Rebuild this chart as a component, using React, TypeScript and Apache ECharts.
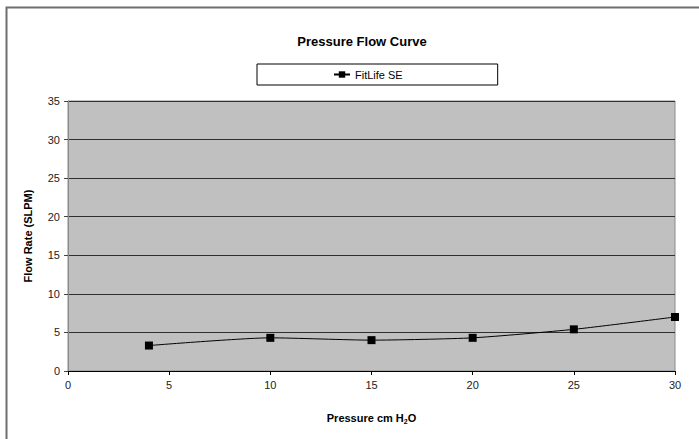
import React, { useEffect, useRef } from "react";
import * as echarts from "echarts";

const pressure = [4, 10, 15, 20, 25, 30];
const flowRate = [3.3, 4.3, 4.0, 4.3, 5.4, 7.0];
const seriesName = "FitLife SE";
const titleText = "Pressure Flow Curve";
const yAxisTitle = "Flow Rate (SLPM)";

export default function App() {
  const ref = useRef<HTMLDivElement>(null);
  useEffect(() => {
    if (!ref.current) return;
    const chart = echarts.init(ref.current, null, { renderer: "svg" });
    const font = "Liberation Sans, Arial, sans-serif";
    chart.setOption({
      animation: false,
      backgroundColor: "#ffffff",
      title: {
        text: titleText,
        left: 357,
        textAlign: "center",
        top: 30,
        textStyle: { fontFamily: font, fontSize: 13, fontWeight: "bold", color: "#000" },
      },
      legend: {
        data: [seriesName],
        top: 64,
        left: 257,
        borderColor: "#000",
        borderWidth: 1,
        padding: [5, 95, 5, 76],
        itemWidth: 16,
        itemHeight: 8,
        itemGap: 4,
        textStyle: { fontFamily: font, fontSize: 11, color: "#000" },
      },
      graphic: [
        {
          type: "rect",
          shape: { x: 6.5, y: 7.5, width: 720, height: 460 },
          style: { fill: "none", stroke: "#6e6e6e", lineWidth: 2 },
          silent: true,
        },
      ],
      grid: {
        left: 68,
        right: 24,
        top: 101,
        bottom: 68,
        show: true,
        backgroundColor: "#c0c0c0",
        borderColor: "#8a8a8a",
        borderWidth: 1,
      },
      xAxis: {
        type: "value",
        min: 0,
        max: 30,
        interval: 5,
        name: "{a|Pressure cm H}{s|2}{a|O}",
        nameLocation: "middle",
        nameGap: 40,
        nameTextStyle: {
          rich: {
            a: { fontFamily: font, fontSize: 11, fontWeight: "bold", color: "#000" },
            s: { fontFamily: font, fontSize: 7, fontWeight: "bold", color: "#000", padding: [7, 0, 0, 0] },
          },
        },
        axisLine: { show: true, lineStyle: { color: "#000", width: 1 } },
        axisTick: { show: true, inside: false, length: 4, lineStyle: { color: "#000" } },
        axisLabel: { fontFamily: font, fontSize: 11, color: "#222", margin: 8 },
        splitLine: { show: false },
      },
      yAxis: {
        type: "value",
        min: 0,
        max: 35,
        interval: 5,
        name: yAxisTitle,
        nameLocation: "middle",
        nameGap: 35,
        nameTextStyle: { fontFamily: font, fontSize: 11, fontWeight: "bold", color: "#000" },
        axisLine: { show: true, lineStyle: { color: "#8a8a8a", width: 1 } },
        axisTick: { show: true, inside: false, length: 4, lineStyle: { color: "#444" } },
        axisLabel: { fontFamily: font, fontSize: 11, color: "#222", margin: 8 },
        splitLine: { show: true, lineStyle: { color: "#303030", width: 1 } },
      },
      series: [
        {
          name: seriesName,
          type: "line",
          data: pressure.map((p, i) => [p, flowRate[i]]),
          smooth: 0.2,
          symbol: "rect",
          symbolSize: 8,
          itemStyle: { color: "#000" },
          lineStyle: { color: "#000", width: 1 },
        },
      ],
    });
    return () => chart.dispose();
  }, []);
  return (
    <div
      ref={ref}
      style={{ position: "fixed", left: 0, top: 0, width: 699, height: 439 }}
    />
  );
}
